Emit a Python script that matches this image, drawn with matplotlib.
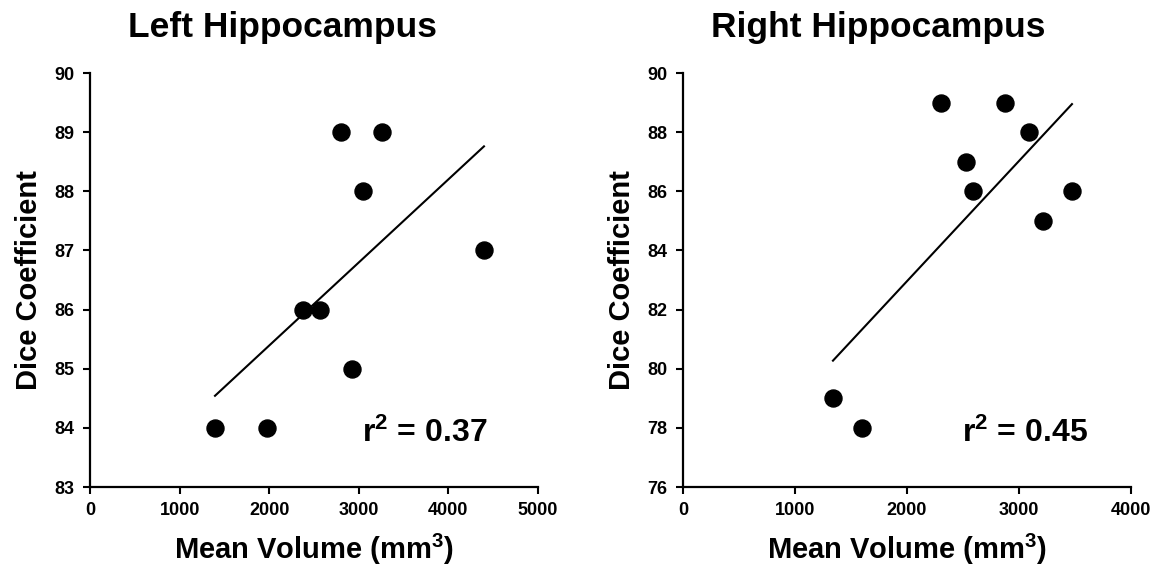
import numpy as np
import matplotlib
matplotlib.use("Agg")
import matplotlib.pyplot as plt

plt.rcParams['font.family'] = ['Liberation Sans', 'DejaVu Sans']
plt.rcParams['font.weight'] = 'bold'
plt.rcParams['mathtext.fontset'] = 'custom'
plt.rcParams['mathtext.rm'] = 'Liberation Sans:bold'
plt.rcParams['mathtext.bf'] = 'Liberation Sans:bold'
plt.rcParams['mathtext.default'] = 'bf'

# Data
left_volume = [1395, 1975, 2377, 2567, 2801, 3259, 3047, 2924, 4397]
left_dice = [84, 84, 86, 86, 89, 89, 88, 85, 87]
right_volume = [1339, 1598, 2304, 2875, 3089, 2527, 2589, 3473, 3214]
right_dice = [79, 78, 89, 89, 88, 87, 86, 86, 85]

titles = ["Left Hippocampus", "Right Hippocampus"]
r2_labels = [r"r$^{2}$ = 0.37", r"r$^{2}$ = 0.45"]
xlabel = r"Mean Volume (mm$^{3}$)"
ylabel = "Dice Coefficient"
left_xticks = [0, 1000, 2000, 3000, 4000, 5000]
left_yticks = [83, 84, 85, 86, 87, 88, 89, 90]
right_xticks = [0, 1000, 2000, 3000, 4000]
right_yticks = [76, 78, 80, 82, 84, 86, 88, 90]

W, H = 1168, 568
fig = plt.figure(figsize=(W / 100, H / 100), dpi=100)
fig.patch.set_facecolor('white')

ax_l = fig.add_axes([90 / W, 1 - 487 / H, 448 / W, 414 / H])
ax_r = fig.add_axes([683 / W, 1 - 487 / H, 448 / W, 414 / H])

panels = [
    (ax_l, left_volume, left_dice, left_xticks, left_yticks, titles[0], r2_labels[0], 0.607, 283),
    (ax_r, right_volume, right_dice, right_xticks, right_yticks, titles[1], r2_labels[1], 0.623, 878),
]

for ax, xv, yv, xt, yt, title, r2, r2x, tx in panels:
    xv = np.array(xv, dtype=float)
    yv = np.array(yv, dtype=float)
    ax.scatter(xv, yv, s=150, color='black', zorder=3, clip_on=False)
    m, b = np.polyfit(xv, yv, 1)
    xs = np.array([xv.min(), xv.max()])
    ax.plot(xs, m * xs + b, color='black', lw=1.5, zorder=2)
    ax.set_xlim(xt[0], xt[-1])
    ax.set_ylim(yt[0], yt[-1])
    ax.set_xticks(xt)
    ax.set_yticks(yt)
    ax.set_xticklabels([str(v) for v in xt], fontsize=13, fontweight='bold')
    ax.set_yticklabels([str(v) for v in yt], fontsize=13, fontweight='bold')
    for s in ['top', 'right']:
        ax.spines[s].set_visible(False)
    for s in ['left', 'bottom']:
        ax.spines[s].set_linewidth(1.6)
        ax.spines[s].set_color('black')
    ax.tick_params(direction='out', length=5, width=1.5, colors='black', pad=6)
    ax.set_xlabel(xlabel, fontsize=21, fontweight='bold', labelpad=9)
    ax.set_ylabel(ylabel, fontsize=21, fontweight='bold', labelpad=8)
    ax.text(r2x, 0.13, r2, transform=ax.transAxes, fontsize=23, fontweight='bold',
            ha='left', va='center')
    fig.text(tx / W, 1 - 28 / H, title, fontsize=25.5, fontweight='bold',
             ha='center', va='center')

fig.savefig("out.png", dpi=100)
